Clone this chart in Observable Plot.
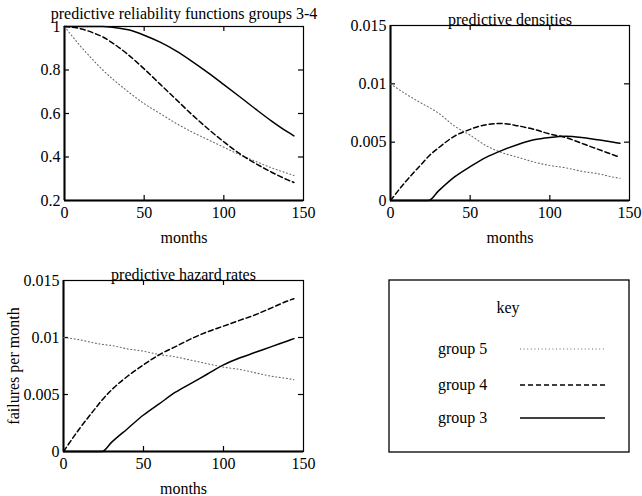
<!DOCTYPE html>
<html><head><meta charset="utf-8">
<script src="https://cdn.jsdelivr.net/npm/d3@7"></script>
<script src="https://cdn.jsdelivr.net/npm/@observablehq/plot@0.6"></script>
<style>
body{margin:0;background:#fff;}
#root{position:relative;width:642px;height:496px;background:#fff;overflow:hidden;font-family:"Liberation Serif",serif;}
#root > div, #root > svg{position:absolute;}
</style></head><body><div id="root"></div>
<script>
// ---- data ----
const months = [0,10,20,24,30,40,50,60,70,80,90,100,110,120,130,140,144];
const groups = ["group 5","group 4","group 3"];

// predictive reliability functions
const rel5 = [1.0,0.91,0.83,0.80,0.76,0.70,0.645,0.60,0.555,0.515,0.48,0.445,0.41,0.38,0.35,0.325,0.315];
const rel4 = [1.0,0.99,0.965,0.952,0.925,0.87,0.805,0.735,0.665,0.595,0.53,0.47,0.415,0.37,0.33,0.295,0.283];
const rel3 = [1.0,1.0,1.0,1.0,0.997,0.985,0.96,0.928,0.888,0.84,0.788,0.733,0.677,0.62,0.565,0.515,0.497];

// predictive densities
const den5 = [0.0100,0.0091,0.0083,0.0080,0.0075,0.0064,0.0056,0.0047,0.0041,0.0037,0.0033,0.0030,0.0028,0.0025,0.0023,0.0020,0.0019];
const den4 = [0,0.0017,0.0032,0.0038,0.0045,0.0055,0.0061,0.0065,0.0066,0.0064,0.0061,0.0057,0.0054,0.0049,0.0044,0.0039,0.0037];
const den3 = [0,0,0,0,0.0008,0.0020,0.0029,0.0037,0.0043,0.0048,0.0052,0.0054,0.0055,0.0054,0.0052,0.0050,0.0049];

// predictive hazard rates
const haz5 = [0.0100,0.0098,0.0095,0.0094,0.0093,0.0090,0.0088,0.0085,0.0083,0.0080,0.0077,0.0074,0.0072,0.0069,0.0066,0.0064,0.0063];
const haz4 = [0,0.0020,0.0038,0.0045,0.0054,0.0066,0.0076,0.0085,0.0092,0.0099,0.0105,0.0110,0.0115,0.0120,0.0126,0.0132,0.0134];
const haz3 = [0,0,0,0,0.0008,0.0020,0.0032,0.0042,0.0052,0.0060,0.0068,0.0076,0.0082,0.0087,0.0092,0.0097,0.0099];

const xDomain = [0,150];
const xTicks = [0,50,100,150];
const xTickLabels = ["0","50","100","150"];
const relDomain = [0.2,1];
const relTicks = [0.2,0.4,0.6,0.8,1];
const relTickLabels = ["0.2","0.4","0.6","0.8","1"];
const rateDomain = [0,0.015];
const rateTicks = [0,0.005,0.01,0.015];
const rateTickLabels = ["0","0.005","0.01","0.015"];

// ---- styles ----
const lineStyles = {
  "group 5": {stroke:"#6a6a6a", strokeWidth:1.1, strokeDasharray:"1,2.6"},
  "group 4": {stroke:"#000", strokeWidth:1.5, strokeDasharray:"5,3"},
  "group 3": {stroke:"#000", strokeWidth:1.5}
};
const FONT = "Liberation Serif";

function toRows(series){
  return groups.flatMap((g,gi)=>months.map((m,i)=>({group:g, month:m, value:series[gi][i]})));
}

function panel({title, titleDy, series, yDomain, yTicks, yTickLabels, ylabel, left, top, width, height, margin}){
  const rows = toRows(series);
  const innerW = width - margin.left - margin.right;
  const innerH = height - margin.top - margin.bottom;
  const innerX = xTicks.slice(1,-1);
  const innerY = yTicks.slice(1,-1);
  const marks = [
    Plot.frame({stroke:"#000", strokeWidth:1.2}),
    Plot.ruleX([xDomain[0]], {stroke:"#000", strokeWidth:2}),
    Plot.ruleY([yDomain[0]], {stroke:"#000", strokeWidth:2}),
    Plot.tickX(innerX, {x:d=>d, insetTop: innerH-5, stroke:"#000", strokeWidth:1.2}),
    Plot.tickX(innerX, {x:d=>d, insetBottom: innerH-5, stroke:"#000", strokeWidth:1.2}),
    Plot.tickY(innerY, {y:d=>d, insetRight: innerW-5, stroke:"#000", strokeWidth:1.2}),
    Plot.tickY(innerY, {y:d=>d, insetLeft: innerW-5, stroke:"#000", strokeWidth:1.2}),
    ...groups.map(g => Plot.line(rows.filter(r=>r.group===g), {x:"month", y:"value", curve:"monotone-x", ...lineStyles[g]})),
    Plot.axisX(xTicks, {tickSize:0, tickPadding:6, fontSize:16, label:null, tickFormat:d=>xTickLabels[xTicks.indexOf(d)]}),
    Plot.axisY(yTicks, {tickSize:0, tickPadding:4, fontSize:16, label:null, tickFormat:d=>yTickLabels[yTicks.indexOf(d)]}),
    Plot.text([title], {text:d=>d, frameAnchor:"top", lineAnchor:"bottom", dy:titleDy, fontSize:16, fill:"#000"}),
    Plot.text(["months"], {text:d=>d, frameAnchor:"bottom", lineAnchor:"middle", dy:37, fontSize:16, fill:"#000"})
  ];
  if (ylabel) marks.push(Plot.text([ylabel], {text:d=>d, frameAnchor:"left", textAnchor:"middle", lineAnchor:"middle", rotate:-90, dx:-(margin.left-13), fontSize:16, fill:"#000"}));
  const chart = Plot.plot({
    width, height,
    marginLeft: margin.left, marginRight: margin.right, marginTop: margin.top, marginBottom: margin.bottom,
    x: {domain: xDomain},
    y: {domain: yDomain},
    style: {fontFamily: FONT, fontSize:"16px", color:"#000", background:"transparent", overflow:"visible"},
    marks
  });
  const wrap = document.createElement("div");
  wrap.style.left = left+"px"; wrap.style.top = top+"px";
  wrap.appendChild(chart);
  document.getElementById("root").appendChild(wrap);
}

panel({title:"predictive reliability functions groups 3-4", titleDy:-8, series:[rel5,rel4,rel3],
  yDomain:relDomain, yTicks:relTicks, yTickLabels:relTickLabels,
  left:0, top:0, width:320, height:250, margin:{left:64, right:17, top:26, bottom:50}});
panel({title:"predictive densities", titleDy:-1, series:[den5,den4,den3],
  yDomain:rateDomain, yTicks:rateTicks, yTickLabels:rateTickLabels,
  left:320, top:0, width:322, height:250, margin:{left:70, right:13, top:25, bottom:50}});
panel({title:"predictive hazard rates", titleDy:-1, series:[haz5,haz4,haz3], ylabel:"failures per month",
  yDomain:rateDomain, yTicks:rateTicks, yTickLabels:rateTickLabels,
  left:0, top:250, width:320, height:246, margin:{left:63, right:17, top:30, bottom:45}});

// ---- key ----
const key = d3.select("#root").append("svg")
  .attr("width",642).attr("height",496).style("left","0px").style("top","0px")
  .style("pointer-events","none");
key.append("rect").attr("x",389).attr("y",280).attr("width",240).attr("height",172)
  .attr("fill","none").attr("stroke","#000").attr("stroke-width",1.3);
key.append("text").attr("x",508).attr("y",308).attr("dy","0.32em").attr("text-anchor","middle")
  .attr("font-family",FONT).attr("font-size",16).text("key");
const keyY = [349,385,418];
groups.forEach((g,i)=>{
  key.append("text").attr("x",438).attr("y",keyY[i]).attr("dy","0.32em")
    .attr("font-family",FONT).attr("font-size",16).text(g);
  const s = lineStyles[g];
  key.append("line").attr("x1",520).attr("x2",605).attr("y1",keyY[i]).attr("y2",keyY[i])
    .attr("stroke",s.stroke).attr("stroke-width",s.strokeWidth)
    .attr("stroke-dasharray", s.strokeDasharray || null);
});
</script></body></html>
